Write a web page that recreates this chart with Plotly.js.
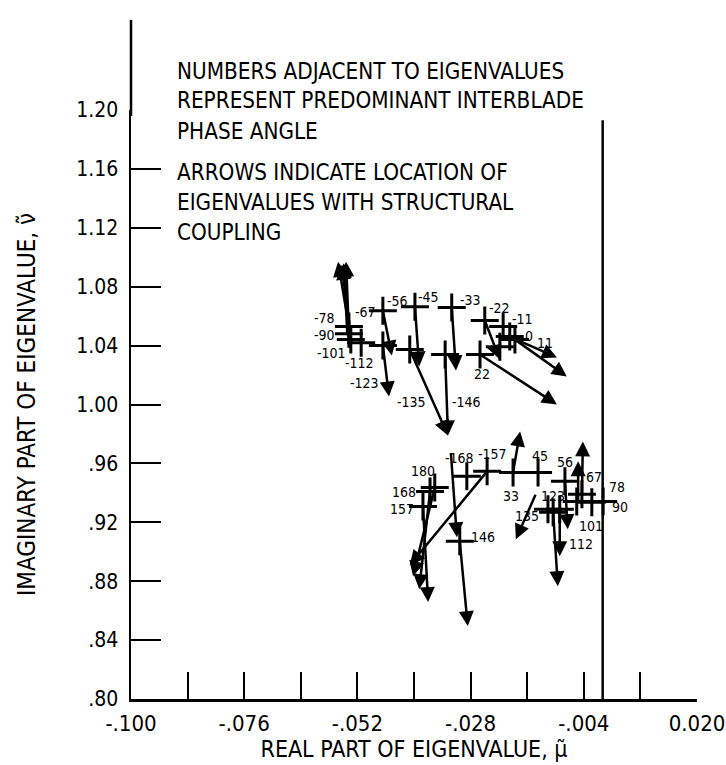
<!DOCTYPE html>
<html>
<head>
<meta charset="utf-8">
<script src="https://cdn.plot.ly/plotly-3.0.1.min.js"></script>
<style>html,body{margin:0;padding:0;background:#fff;}#chart{width:726px;height:765px;}</style>
</head>
<body>
<div id="chart"></div>
<script>
// ---------- DATA ----------
// Eigenvalues without structural coupling (crosses), labelled by interblade phase angle
const phaseAngles = ['-78','-90','-101','-112','-123','-135','-146','-67','-56','-45','-33','-22','-11','0','11','22',
                     '-157','-168','33','45','180','168','157','146','56','67','78','90','101','112','123','135'];
const eigMu = [-0.0538,-0.0538,-0.0534,-0.0512,-0.0466,-0.0409,-0.0334,-0.0466,-0.0398,-0.0320,-0.0250,-0.0211,-0.0197,-0.0186,-0.0218,-0.0260,
               -0.0245,-0.0288,-0.0190,-0.0137,-0.0356,-0.0366,-0.0381,-0.0303,-0.0080,-0.0044,0.0001,-0.0023,-0.0055,-0.0091,-0.0105,-0.0116];
const eigNu = [1.0529,1.0481,1.0441,1.0420,1.0400,1.0373,1.0339,1.0637,1.0664,1.0658,1.0570,1.0529,1.0461,1.0441,1.0393,1.0339,
               0.9546,0.9512,0.9539,0.9539,0.9437,0.9410,0.9308,0.9071,0.9478,0.9390,0.9342,0.9336,0.9342,0.9288,0.9268,0.9288];
// Where each phase-angle number is written
const labelMu = [-0.0589,-0.0589,-0.0574,-0.0515,-0.0504,-0.0406,-0.0288,-0.0502,-0.0436,-0.0370,-0.0281,-0.0218,-0.0169,-0.0156,-0.0122,-0.0256,
                 -0.0233,-0.0303,-0.0194,-0.0133,-0.0381,-0.0421,-0.0426,-0.0254,-0.0080,-0.0018,0.0030,0.0037,-0.0025,-0.0046,-0.0105,-0.0160];
const labelNu = [1.0590,1.0475,1.0353,1.0285,1.0149,1.0020,1.0020,1.0631,1.0705,1.0732,1.0712,1.0658,1.0583,1.0468,1.0420,1.0204,
                 0.9661,0.9634,0.9376,0.9648,0.9546,0.9403,0.9288,0.9098,0.9607,0.9505,0.9437,0.9302,0.9173,0.9051,0.9376,0.9241];
// Arrows: eigenvalue without coupling -> eigenvalue with structural coupling
const arrowFromMu = [-0.0538,-0.0538,-0.0534,-0.0541,-0.0466,-0.0466,-0.0398,-0.0320,-0.0409,-0.0334,-0.0250,-0.0197,-0.0186,-0.0260,-0.0322,
                     -0.0245,-0.0356,-0.0366,-0.0381,-0.0303,-0.0190,-0.0141,-0.0080,-0.0044,-0.0052,-0.0091,-0.0105];
const arrowFromNu = [1.0529,1.0481,1.0441,1.0460,1.0637,1.0400,1.0664,1.0658,1.0373,1.0339,1.0570,1.0461,1.0441,1.0339,0.9681,
                     0.9546,0.9437,0.9410,0.9308,0.9071,0.9539,0.9397,0.9478,0.9369,0.9336,0.9288,0.9268];
const arrowToMu = [-0.0561,-0.0544,-0.0553,-0.0549,-0.0447,-0.0453,-0.0389,-0.0311,-0.0328,-0.0328,-0.0218,-0.0097,-0.0076,-0.0097,-0.0309,
                   -0.0409,-0.0402,-0.0389,-0.0370,-0.0286,-0.0175,-0.0184,-0.0074,-0.0042,-0.0052,-0.0091,-0.0095];
const arrowToNu = [1.0970,1.0970,1.0949,1.0960,1.0332,1.0054,1.0258,1.0231,0.9790,0.9790,1.0305,1.0319,1.0190,1.0000,0.9098,
                   0.8908,0.8834,0.8746,0.8658,0.8495,0.9817,0.9085,0.9153,0.9749,0.9614,0.8969,0.8766];
// Stability boundary (real part = 0)
const boundaryMu = [0, 0];
const boundaryNu = [0.80, 1.193];
// Axis ticks
const xRange = [-0.100, 0.020];
const yRange = [0.80, 1.20];
const xTickVals = [-0.100,-0.088,-0.076,-0.064,-0.052,-0.040,-0.028,-0.016,-0.004,0.008,0.020];
const xTickText = ['-.100','','-.076','','-.052','','-.028','','-.004','','0.020'];
const yTickVals = [0.80,0.84,0.88,0.92,0.96,1.00,1.04,1.08,1.12,1.16,1.20];
const yTickText = ['.80','.84','.88','.92','.96','1.00','1.04','1.08','1.12','1.16','1.20'];
// Notes (text lines and the imaginary-part level each line sits at)
const noteLines = ['NUMBERS ADJACENT TO EIGENVALUES','REPRESENT PREDOMINANT INTERBLADE','PHASE ANGLE',
                   'ARROWS INDICATE LOCATION OF','EIGENVALUES WITH STRUCTURAL','COUPLING'];
const noteNu = [1.2265,1.2068,1.1858,1.1580,1.1376,1.1173];
const noteMu = -0.0907;

// ---------- CHART ----------
const F = '"DejaVu Sans Condensed", "DejaVu Sans", sans-serif';
const INK = '#000';

const traces = [
  {x: boundaryMu, y: boundaryNu, mode: 'lines', line: {color: INK, width: 2.5}, hoverinfo: 'skip'},
  {x: eigMu, y: eigNu, mode: 'markers', text: phaseAngles,
   marker: {symbol: 'cross-thin', size: 20, color: INK, line: {color: INK, width: 3}}}
];

const annotations = [];
for (let i = 0; i < arrowFromMu.length; i++) {
  annotations.push({x: arrowToMu[i], y: arrowToNu[i], ax: arrowFromMu[i], ay: arrowFromNu[i],
    xref: 'x', yref: 'y', axref: 'x', ayref: 'y', text: '', showarrow: true,
    arrowhead: 2, arrowsize: 1.2, arrowwidth: 2.5, arrowcolor: INK, standoff: 0, startstandoff: 0});
}
for (let i = 0; i < phaseAngles.length; i++) {
  annotations.push({x: labelMu[i], y: labelNu[i], xref: 'x', yref: 'y', text: phaseAngles[i], showarrow: false,
    xanchor: 'center', yanchor: 'middle', font: {family: F, size: 14, color: INK}});
}
const xToPaper = v => (v - xRange[0]) / (xRange[1] - xRange[0]);
const yToPaper = v => (v - yRange[0]) / (yRange[1] - yRange[0]);
for (let i = 0; i < noteLines.length; i++) {
  annotations.push({x: xToPaper(noteMu), y: yToPaper(noteNu[i]), xref: 'paper', yref: 'paper', text: noteLines[i], showarrow: false,
    xanchor: 'left', yanchor: 'middle', font: {family: F, size: 22.3, color: INK}});
}

const layout = {
  width: 726, height: 765,
  margin: {l: 131, r: 29, t: 110, b: 66, pad: 0},
  paper_bgcolor: '#fff', plot_bgcolor: '#fff',
  showlegend: false,
  font: {family: F, color: INK},
  xaxis: {range: xRange, tickvals: xTickVals, ticktext: xTickText,
    ticks: 'inside', ticklen: 27, tickwidth: 2, tickcolor: INK,
    showline: true, linewidth: 2.5, linecolor: INK, showgrid: false, zeroline: false,
    tickfont: {family: F, size: 22, color: INK}, ticklabelstandoff: 3,
    title: {text: 'REAL PART OF EIGENVALUE, μ̃', font: {family: F, size: 23, color: INK}, standoff: 0}},
  yaxis: {range: yRange, tickvals: yTickVals, ticktext: yTickText,
    ticks: 'inside', ticklen: 30, tickwidth: 2, tickcolor: INK,
    showline: true, linewidth: 2.5, linecolor: INK, showgrid: false, zeroline: false,
    tickfont: {family: F, size: 21, color: INK}, ticklabelstandoff: 6,
    title: {text: 'IMAGINARY PART OF EIGENVALUE, ν̃', font: {family: F, size: 24, color: INK}, standoff: 34}},
  shapes: [
    {type: 'line', xref: 'paper', yref: 'paper', x0: 0, x1: 0, y0: 0.99, y1: 1.153, line: {color: INK, width: 2.5}}
  ],
  annotations: annotations
};

Plotly.newPlot('chart', traces, layout, {displayModeBar: false, staticPlot: true});
</script>
</body>
</html>
